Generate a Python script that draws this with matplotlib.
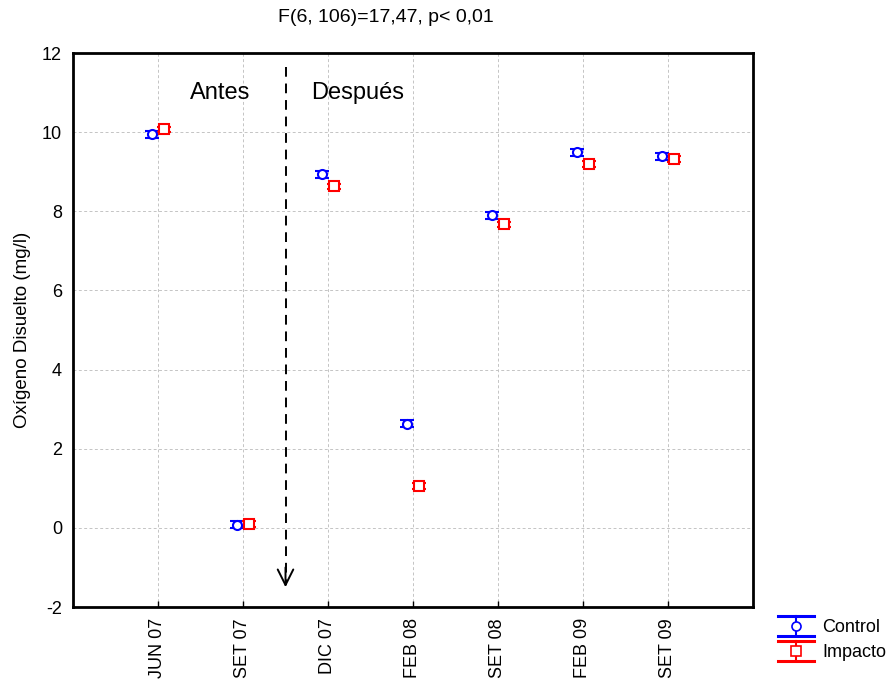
import matplotlib
matplotlib.use("Agg")
import matplotlib.pyplot as plt
from matplotlib.legend_handler import HandlerBase
from matplotlib.lines import Line2D
import numpy as np

plt.rcParams['font.family'] = ['Liberation Sans', 'DejaVu Sans']

categories = ["JUN 07", "SET 07", "DIC 07", "FEB 08", "SET 08", "FEB 09", "SET 09"]
control = [9.95, 0.08, 8.94, 2.63, 7.90, 9.49, 9.39]
control_err = [0.09, 0.09, 0.09, 0.09, 0.09, 0.09, 0.09]
impacto = [10.07, 0.10, 8.63, 1.06, 7.67, 9.19, 9.32]
impacto_err = [0.07, 0.07, 0.07, 0.07, 0.07, 0.07, 0.07]
series_names = ["Control", "Impacto"]
title = "F(6, 106)=17,47, p< 0,01"

W, H = 891, 684
fig = plt.figure(figsize=(W / 100, H / 100), dpi=100)
ax = fig.add_axes([73 / W, 1 - 607 / H, 680 / W, 554 / H])

x = np.arange(1, len(categories) + 1)
off = 0.075
hc = ax.errorbar(x - off, control, yerr=control_err, fmt='o', color='blue', mfc='white',
                 mec='blue', ms=6.5, mew=1.5, capsize=5, capthick=2.2, elinewidth=1.5, zorder=3)
hi = ax.errorbar(x + off, impacto, yerr=impacto_err, fmt='s', color='red', mfc='white',
                 mec='red', ms=6.5, mew=1.5, capsize=5, capthick=2.2, elinewidth=1.5, zorder=3)

ax.set_xlim(0, 8)
ax.set_ylim(-2, 12)
ax.set_xticks(x)
ax.set_xticklabels(categories, rotation=90, fontsize=13)
ax.set_yticks(np.arange(-2, 13, 2))
ax.set_yticklabels([str(v) for v in range(-2, 13, 2)], fontsize=13)
ax.grid(True, color='#c4c4c4', linestyle=(0, (3, 2.5)), linewidth=0.7)
ax.set_axisbelow(True)
for s in ax.spines.values():
    s.set_linewidth(2)
ax.tick_params(axis='both', direction='in', length=4, width=1, pad=8)
ax.tick_params(axis='y', length=0)
ax.set_ylabel("Oxígeno Disuelto (mg/l)", fontsize=13.5, labelpad=8)
fig.text(386 / W, 1 - 18 / H, title, ha='center', va='center', fontsize=14)

# dashed shaft + solid open arrowhead
ax.plot([2.5, 2.5], [11.65, -1.45], color='black', lw=1.4, linestyle=(0, (5, 3.5)))
ax.annotate('', xy=(2.5, -1.5), xytext=(2.5, -1.0),
            arrowprops=dict(arrowstyle='->', color='black', lw=1.4, mutation_scale=28,
                            shrinkA=0, shrinkB=0))
ax.text(1.73, 11.0, "Antes", fontsize=17, ha='center', va='center')
ax.text(3.35, 11.0, "Después", fontsize=17, ha='center', va='center')


class ErrHandler(HandlerBase):
    def __init__(self, color, marker):
        super().__init__()
        self.color = color
        self.marker = marker

    def create_artists(self, legend, orig_handle, xdescent, ydescent, width, height,
                       fontsize, trans):
        cy = height / 2 - ydescent
        top = cy + 7.2
        bot = cy - 7.2
        x0, x1 = -xdescent, -xdescent + width
        xm = (x0 + x1) / 2
        arts = [
            Line2D([x0, x1], [top, top], color=self.color, lw=2.2, transform=trans),
            Line2D([x0, x1], [bot, bot], color=self.color, lw=2.2, transform=trans),
            Line2D([xm, xm], [bot, top], color=self.color, lw=1.5, transform=trans),
            Line2D([xm], [cy], marker=self.marker, ms=6.5, mfc='white', mec=self.color,
                   mew=1.2, color=self.color, transform=trans),
        ]
        return arts


fig.legend(handles=[hc, hi], labels=series_names, loc='lower left',
           bbox_to_anchor=(778 / W, 1 - 661 / H), frameon=False, fontsize=13,
           handlelength=2.0, handletextpad=0.45, labelspacing=0.45, borderpad=0,
           borderaxespad=0,
           handler_map={hc: ErrHandler('blue', 'o'), hi: ErrHandler('red', 's')})

fig.savefig("out.png", dpi=100)
